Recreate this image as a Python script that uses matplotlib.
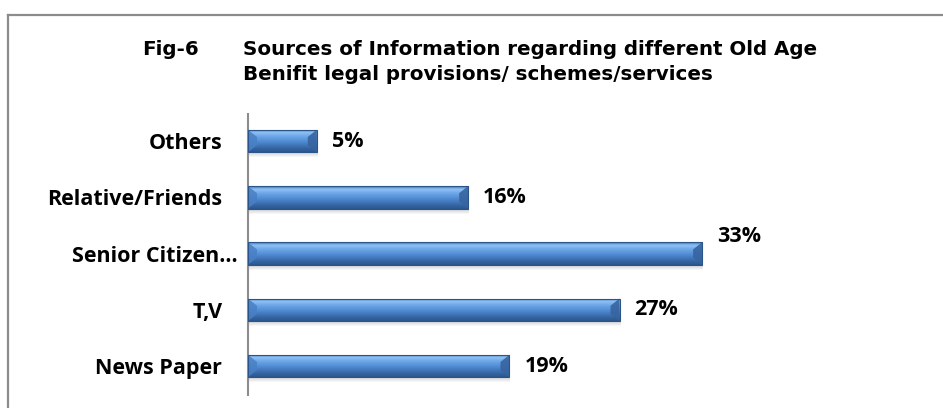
import matplotlib
matplotlib.use('Agg')
import matplotlib.pyplot as plt
import numpy as np
from matplotlib.patches import Polygon, Rectangle
from matplotlib.colors import LinearSegmentedColormap
from matplotlib.lines import Line2D
from matplotlib.transforms import ScaledTranslation

categories = ['News Paper', 'T,V', 'Senior Citizen…', 'Relative/Friends', 'Others']
percent = [19, 27, 33, 16, 5]

title_tag = 'Fig-6'
title_lines = ['Sources of Information regarding different Old Age',
               'Benifit legal provisions/ schemes/services']

W, H = 943, 408
fig = plt.figure(figsize=(W / 100, H / 100), dpi=100)

# outer frame (only top and left edges are inside the picture)
fig.add_artist(Line2D([8 / W, 8 / W], [0, 1 - 15 / H], color='#8c8c8c', lw=1.6))
fig.add_artist(Line2D([8 / W, 1], [1 - 15 / H, 1 - 15 / H], color='#8c8c8c', lw=1.6))

tfont = dict(fontsize=14.3, fontweight='bold', family='DejaVu Sans', va='baseline')
fig.text(142 / W, 1 - 55 / H, title_tag, **tfont)
for i, line in enumerate(title_lines):
    fig.text(243 / W, 1 - (55 + 25 * i) / H, line, **tfont)

ax = fig.add_axes([248 / W, 1 - 395 / H, 688 / W, (395 - 114) / H])
ax.set_xlim(0, 50)
ax.set_ylim(-0.515, 4.48)

pos = np.arange(len(categories))
bar_h = 0.40
bars = ax.barh(pos, percent, height=bar_h, color='#4a82c8', zorder=2)

grad = LinearSegmentedColormap.from_list('bevel', [
    (0.0, '#2b5790'), (0.15, '#35649f'), (0.45, '#4f8ad2'),
    (0.7, '#6fa8e9'), (0.86, '#8ec2f5'), (1.0, '#4576b6')])
g = np.linspace(0, 1, 100).reshape(-1, 1)

# data units per pixel
px_x = 50 / 688
px_y = (4.48 + 0.515) / (395 - 114)

for b in bars:
    x0, y0 = b.get_x(), b.get_y()
    x1, y1 = x0 + b.get_width(), y0 + b.get_height()
    # soft shadow under the bar
    for k in range(1, 6):
        ax.add_patch(Rectangle((x0 + px_x, y0 - k * px_y), b.get_width(), b.get_height(),
                               facecolor='#606060', edgecolor='none', alpha=0.055, zorder=1))
    im = ax.imshow(g, cmap=grad, extent=(x0, x1, y0, y1), origin='lower',
                   aspect='auto', zorder=2.5, interpolation='bilinear')
    im.set_clip_path(b)
    # bevelled ends
    dx = 9 * px_x
    dy = 0.32 * b.get_height()
    ax.add_patch(Polygon([(x0, y0), (x0 + dx, y0 + dy), (x0 + dx, y1 - dy), (x0, y1)],
                         closed=True, facecolor='#4a80c4', edgecolor='none', alpha=0.85, zorder=3))
    ax.add_patch(Polygon([(x1, y0), (x1 - dx, y0 + dy), (x1 - dx, y1 - dy), (x1, y1)],
                         closed=True, facecolor='#36649f', edgecolor='none', alpha=0.9, zorder=3))
    ax.add_patch(Rectangle((x0, y0), b.get_width(), b.get_height(), facecolor='none',
                           edgecolor='#2a548a', lw=0.8, zorder=3.5))

top = max(percent)
for p, v in zip(pos, percent):
    yy = p + 0.31 if v == top else p
    ax.text(v + 15 * px_x, yy, f'{v}%', va='center', ha='left', fontsize=15.5,
            fontweight='bold', family='Open Sans', color='black')

ax.set_yticks(pos)
ax.set_yticklabels(categories, fontsize=15.5, fontweight='bold', family='Open Sans')
ax.tick_params(axis='y', length=0, pad=18.5)
# the truncated label sits closer to the axis
for lab in ax.get_yticklabels():
    if lab.get_text().endswith('…'):
        lab.set_transform(lab.get_transform() + ScaledTranslation(15 / 100, 0, fig.dpi_scale_trans))
ax.set_xticks([])
for s in ['top', 'right', 'bottom']:
    ax.spines[s].set_visible(False)
ax.spines['left'].set_color('#8c8c8c')
ax.spines['left'].set_linewidth(1.5)
ax.patch.set_alpha(0)

fig.savefig('out.png', dpi=100)
